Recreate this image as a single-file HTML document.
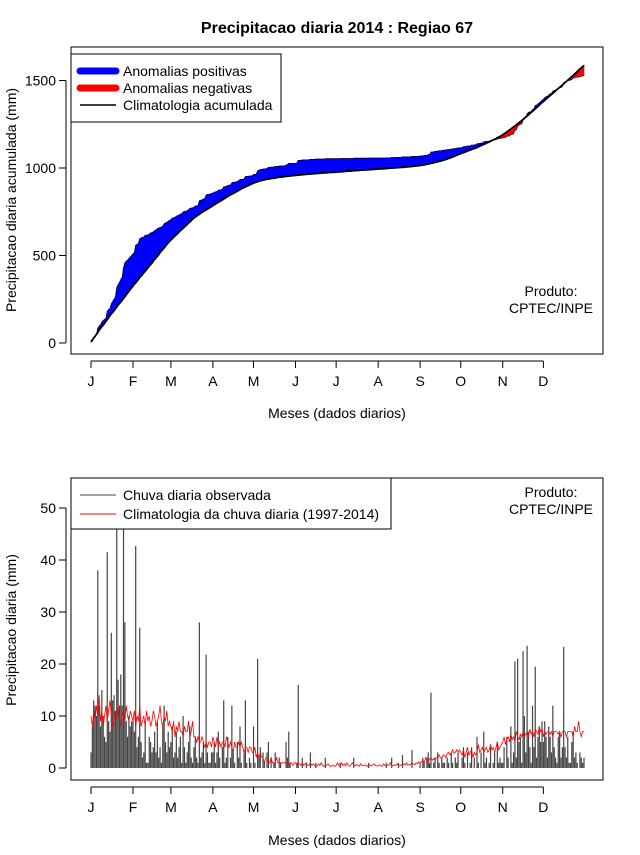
<!DOCTYPE html>
<html><head><meta charset="utf-8"><style>
body{margin:0;background:#fff;}
svg text{font-family:"Liberation Sans",Arial,sans-serif;}
</style></head><body>
<svg id="chart" width="640" height="850" xmlns="http://www.w3.org/2000/svg">
<rect width="640" height="850" fill="#fff"/>
<text x="337" y="33" font-size="16" font-weight="bold" text-anchor="middle">Precipitacao diaria 2014 : Regiao 67</text>
<g id="topPanel"></g>
<g id="botPanel"></g>
</svg>
<script>
const monthLabels=["J","F","M","A","M","J","J","A","S","O","N","D"];
const monthStartDays=[1,32,60,91,121,152,182,213,244,274,305,335];
const topTicks=[0,500,1000,1500];
const botTicks=[0,10,20,30,40,50];
const obsJan=[3,8,13,12,10,38,12,8,15,10,6,5,41.5,9,7,26,13,14,11,55,17,12,18,12,55,28,9,6,10,8,9];
const obsFeb=[9,7,42.7,4,6,27,5,2,3,9,1,1,6,5,3,4,7,3,9,2,4,1,8,12,5,3,7,4];
const obsMar=[5,8,2,3,7,2,4,6,1,10,4,1,3,5,8,2,1,4,6,2,1,28,2,3,5,1,21.8,3,1,1,3];
const obsApr=[3,5,1,3,7,2,0,4,13,1,2,6,0,2,12,3,1,0,5,2,8,1,0,3,13,1,0,2,1,0];
const obsMay=[8,1,0,21,2,4,0,3,1,0,3,5,0,2,0,1,3,0,0,2,1,0,0,0,5,2,7,1,0,0,0];
const obsJun=[0,1,16,0,0,2,0,0,1,0,0,3,0,0,0,1,0,0,0,0,0,0,2,0,0,0,0,0,0,0];
const obsJul=[0,0,0,1,0,0,0,0,0,0,0,0,0,2,0,0,0,0,0,0,0,0,0,0,1,0,0,0,0,0,0];
const obsAug=[0,0,0,0,0,0,1,0,0,0,2,0,0,0,0,1,0,0,2.5,0,0,0,0,0,0,3.5,0,0,0,0,0];
const obsSep=[1,0,2,1,0,2,3,1,14.5,0,1,2,0,3,1,0,2,1,1,0,2,1,0,3,1,0,2,1,3,0];
const obsOct=[0,2,4,1,0,3,0,1,4,0,2,0,6,1,0,3,0,7,1,2,0,1,4,0,1,3,0,5,1,2,1];
const obsNov=[1,4,0,6,2,0,8,1,3,20.5,2,21,5,6,1,22.5,10,3,23.5,7,4,1,12,4,19.5,2,6,8,5,9];
const obsDec=[5,9,6,2,8,6,3,12,4,2,1,6,7,2,4,23.3,4,2,6,1,1,5,7,2,3,1,0,3,2,1,2];
const climJan=[10,8,11,9,12,10,14,9,11,8,10,12,9,11,13,10,8,9,11,10,12,9,8,10,11,9,12,10,9,11,10];
const climFeb=[9,11,8,10,9,12,8,9,10,8,11,9,10,8,9,11,10,8,9,10,12,9,8,10,9,11,8,9];
const climMar=[8,7,9,6,8,7,9,7,7,6,8,7,7,9,6,7,9,6,6,5,6,5,5,6,5,4,5,4,5,5,4];
const climApr=[6,5,4,6,4,5,4,5,5,4,6,5,4,5,4,3,5,4,4,5,4,5,4,3,4,4,3,4,4,3];
const climMay=[3,4,2,3,2,3,2,2,1,2,2,1,1,2,1,1,1,2,1,1,1,1,1,1,1,1,0.5,1,1,0.5,1];
const climJun=[1,0.5,1,0.8,0.5,1,0.5,0.8,1,0.5,0.5,1,0.5,0.8,0.5,0.3,0.5,0.8,0.5,1,0.5,0.3,0.5,0.5,0.8,0.5,0.3,0.5,0.5,0.3];
const climJul=[0.5,1,0.5,0.3,1,0.5,0.8,0.4,1,0.5,0.3,0.6,1,0.5,0.4,0.7,0.5,0.3,0.8,0.5,0.4,0.6,0.5,0.3,0.7,0.5,0.4,0.6,0.8,0.5,0.4];
const climAug=[0.4,0.6,0.5,0.3,0.8,0.5,0.4,0.6,0.5,1,0.5,0.4,0.6,0.5,0.8,0.5,0.4,0.6,0.5,0.8,0.6,1,0.5,0.7,0.6,1,0.8,0.6,1,0.8,1.2];
const climSep=[1,1.2,1.5,1,2,1.5,1.2,1.8,2,1.5,1.8,1.5,2,2,2.5,2,1.8,2.5,2.5,2,2.8,3,2.5,3,3.5,2.8,3,3.5,3,3.5];
const climOct=[3,2.5,3.5,2,3,4,2.5,3,3.5,2,3,2.5,3,4.5,3,3.5,4,3,3.5,4,3,3.5,4.5,3.5,4,3,4,5,3.5,4,4.5];
const climNov=[5,6,4.5,5.5,6,5,6.5,5.5,6,5,7,6,5.5,6.5,6,7,6,6.5,7,6,7.5,6.5,7,6,7.5,7,6.5,8,7,7.5];
const climDec=[6,7,6.5,7,7,6.5,7,6,7,7,7,6.5,7,6,7,7,7,6,7,7,7,7,6,8,7,7,9,7,6,7,7];
const obs=[].concat(obsJan,obsFeb,obsMar,obsApr,obsMay,obsJun,obsJul,obsAug,obsSep,obsOct,obsNov,obsDec);
const clim=[].concat(climJan,climFeb,climMar,climApr,climMay,climJun,climJul,climAug,climSep,climOct,climNov,climDec);

const NS="http://www.w3.org/2000/svg";
function mk(parent,tag,attrs,txt){const e=document.createElementNS(NS,tag);for(const k in attrs)e.setAttribute(k,attrs[k]);if(txt!==undefined)e.textContent=txt;parent.appendChild(e);return e;}
const X0=91,X1=584;
function xd(d){return X0+(d-1)*(X1-X0)/364;}
function yTop(v){return 343-v*0.175;}
function yBot(v){return 768-v*5.2;}

// ---- top panel
const topG=document.getElementById('topPanel');
let co=[],cc=[],so=0,sc=0;
for(let i=0;i<obs.length;i++){so+=obs[i];sc+=clim[i];co.push(so);cc.push(sc);}
for(let i=0;i<co.length-1;i++){
  const d=(co[i]-cc[i])+(co[i+1]-cc[i+1]);
  const p=mk(topG,'polygon',{points:`${xd(i+1)},${yTop(co[i])} ${xd(i+2)},${yTop(co[i+1])} ${xd(i+2)},${yTop(cc[i+1])} ${xd(i+1)},${yTop(cc[i])}`,fill:d>=0?'#0000ff':'#ff0000',stroke:d>=0?'#0000ff':'#ff0000','stroke-width':0.6});
  
  
}
const lo=mk(topG,'polyline',{points:co.map((v,i)=>`${xd(i+1)},${yTop(v)}`).join(' '),fill:'none',stroke:'#000','stroke-width':0.6});


const lc=mk(topG,'polyline',{points:cc.map((v,i)=>`${xd(i+1)},${yTop(v)}`).join(' '),fill:'none',stroke:'#000','stroke-width':1.8});


mk(topG,'rect',{x:71,y:47,width:532,height:307,fill:'none',stroke:'#000','stroke-width':1});
mk(topG,'line',{x1:66,x2:66,y1:yTop(0),y2:yTop(1500),stroke:'#000'});
topTicks.forEach(t=>{mk(topG,'line',{x1:59,x2:66,y1:yTop(t),y2:yTop(t),stroke:'#000'});
  const tx=mk(topG,'text',{x:56,y:yTop(t)+5,'font-size':14,'text-anchor':'end'},String(t));
  
  });
mk(topG,'line',{x1:xd(1),x2:xd(335),y1:361,y2:361,stroke:'#000'});
monthStartDays.forEach((d,i)=>{mk(topG,'line',{x1:xd(d),x2:xd(d),y1:361,y2:368,stroke:'#000'});
  const tx=mk(topG,'text',{x:xd(d),y:386,'font-size':14,'text-anchor':'middle'},monthLabels[i]);
  
  });
mk(topG,'text',{x:337,y:418,'font-size':14,'text-anchor':'middle'},'Meses (dados diarios)');
mk(topG,'text',{x:16,y:200,'font-size':14,'text-anchor':'middle',transform:'rotate(-90 16 200)'},'Precipitacao diaria acumulada (mm)');
mk(topG,'text',{x:551,y:296,'font-size':14,'text-anchor':'middle'},'Produto:');
mk(topG,'text',{x:551,y:313,'font-size':14,'text-anchor':'middle'},'CPTEC/INPE');
const lg=mk(topG,'g',{});


mk(lg,'rect',{x:71,y:54,width:210,height:68,fill:'#fff',stroke:'#000'});
mk(lg,'line',{x1:80,x2:116,y1:71,y2:71,stroke:'#0000ff','stroke-width':7,'stroke-linecap':'round'});
mk(lg,'line',{x1:80,x2:116,y1:88,y2:88,stroke:'#ff0000','stroke-width':7,'stroke-linecap':'round'});
mk(lg,'line',{x1:80,x2:116,y1:105,y2:105,stroke:'#000','stroke-width':1.5});
mk(lg,'text',{x:123,y:76,'font-size':14},'Anomalias positivas');
mk(lg,'text',{x:123,y:93,'font-size':14},'Anomalias negativas');
mk(lg,'text',{x:123,y:110,'font-size':14},'Climatologia acumulada');

// ---- bottom panel
const botG=document.getElementById('botPanel');
const clip=mk(botG,'clipPath',{id:'bc'});mk(clip,'rect',{x:71,y:478,width:532,height:302});
const bg=mk(botG,'g',{'clip-path':'url(#bc)'});
obs.forEach((v,i)=>{const b=mk(bg,'line',{x1:xd(i+1),x2:xd(i+1),y1:yBot(0),y2:yBot(v),stroke:'#444','stroke-width':1.2});
  
  });
const rl=mk(bg,'polyline',{points:clim.map((v,i)=>`${xd(i+1)},${yBot(v)}`).join(' '),fill:'none',stroke:'#ff0000','stroke-width':0.8});


mk(botG,'rect',{x:71,y:478,width:532,height:302,fill:'none',stroke:'#000'});
mk(botG,'line',{x1:66,x2:66,y1:yBot(0),y2:yBot(50),stroke:'#000'});
botTicks.forEach(t=>{mk(botG,'line',{x1:59,x2:66,y1:yBot(t),y2:yBot(t),stroke:'#000'});
  const tx=mk(botG,'text',{x:56,y:yBot(t)+5,'font-size':14,'text-anchor':'end'},String(t));
  
  });
mk(botG,'line',{x1:xd(1),x2:xd(335),y1:787,y2:787,stroke:'#000'});
monthStartDays.forEach((d,i)=>{mk(botG,'line',{x1:xd(d),x2:xd(d),y1:787,y2:794,stroke:'#000'});
  const tx=mk(botG,'text',{x:xd(d),y:812,'font-size':14,'text-anchor':'middle'},monthLabels[i]);
  
  });
mk(botG,'text',{x:337,y:845,'font-size':14,'text-anchor':'middle'},'Meses (dados diarios)');
mk(botG,'text',{x:16,y:630,'font-size':14,'text-anchor':'middle',transform:'rotate(-90 16 630)'},'Precipitacao diaria (mm)');
mk(botG,'text',{x:551,y:497,'font-size':14,'text-anchor':'middle'},'Produto:');
mk(botG,'text',{x:551,y:514,'font-size':14,'text-anchor':'middle'},'CPTEC/INPE');
const lg2=mk(botG,'g',{});


mk(lg2,'rect',{x:71,y:478,width:320,height:51,fill:'#fff',stroke:'#000'});
mk(lg2,'line',{x1:80,x2:116,y1:495,y2:495,stroke:'#444','stroke-width':1});
mk(lg2,'line',{x1:80,x2:116,y1:514,y2:514,stroke:'#ff0000','stroke-width':1});
mk(lg2,'text',{x:123,y:500,'font-size':14},'Chuva diaria observada');
mk(lg2,'text',{x:123,y:519,'font-size':14},'Climatologia da chuva diaria (1997-2014)');
</script>
</body></html>
